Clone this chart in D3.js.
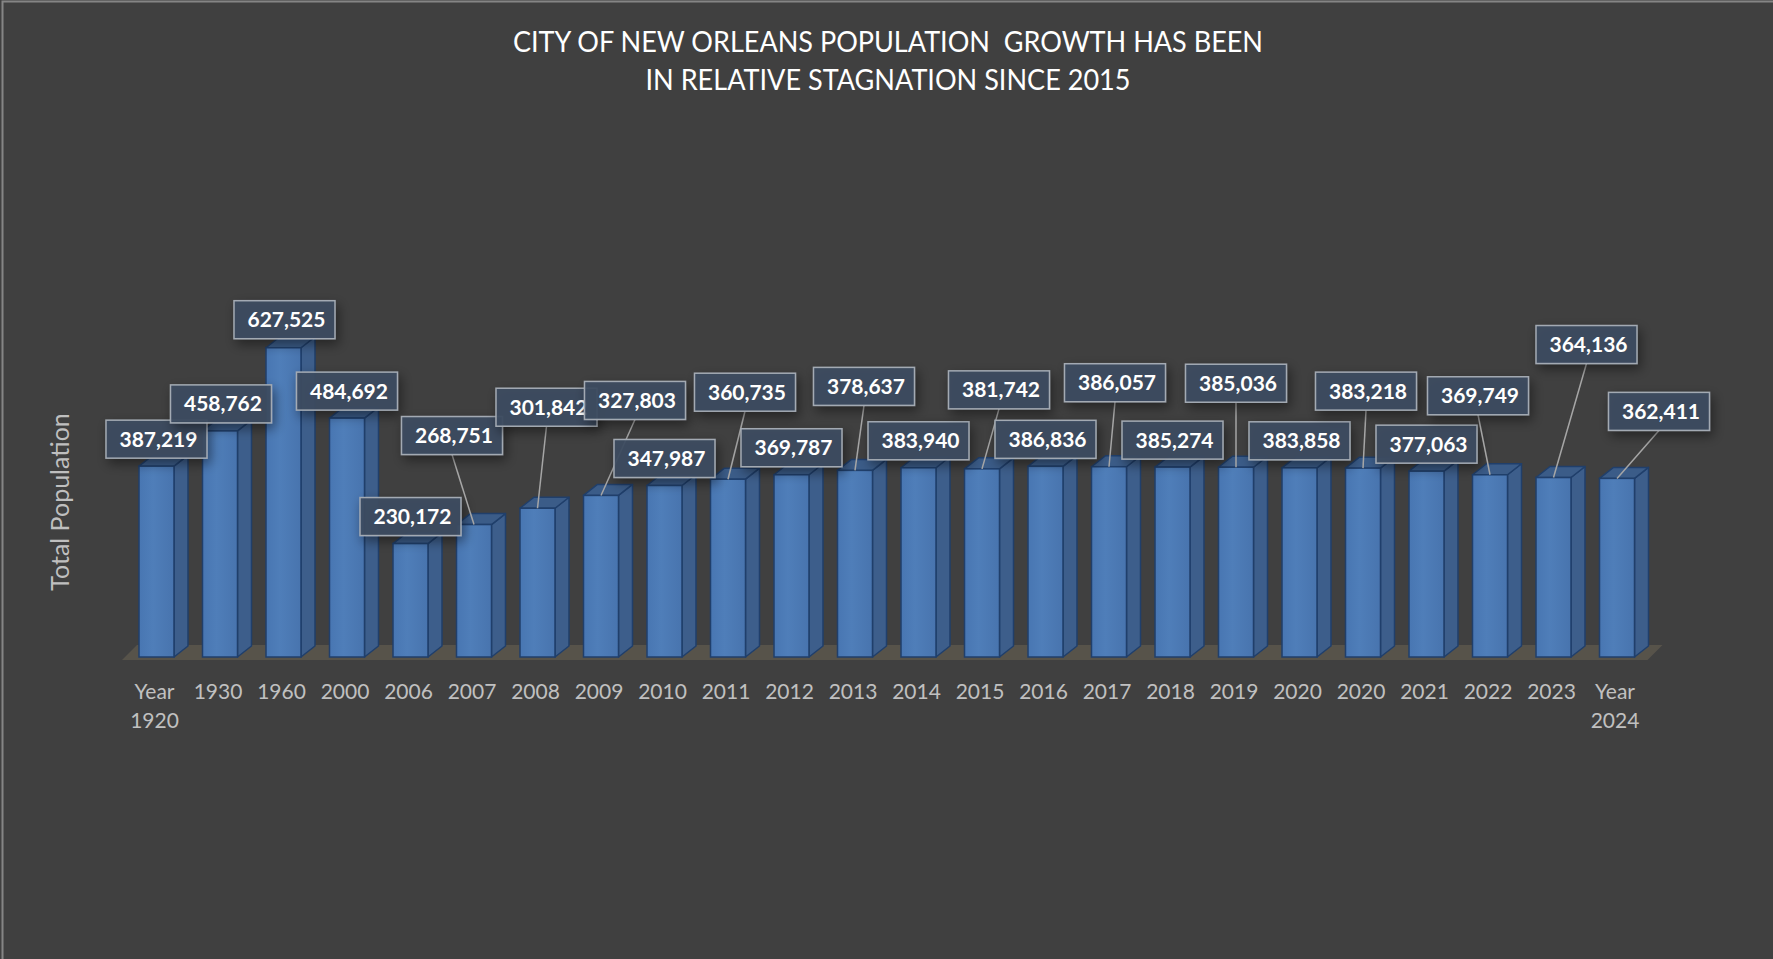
<!DOCTYPE html>
<meta charset="utf-8">
<style>
body { margin: 0; background: #404040; }
svg { display: block; font-family: Lato, "Open Sans", sans-serif; }
.tick text { fill: #c0c0c0; font-size: 21px; }
.val { fill: #fff; font-size: 21px; font-weight: bold; }
.title { white-space: pre; }
</style>
<svg width="1773" height="959"></svg>
<script src="https://d3js.org/d3.v7.min.js"></script>
<script>
// categories and values
var categories = ['Year 1920', '1930', '1960', '2000', '2006', '2007', '2008', '2009', '2010', '2011',
  '2012', '2013', '2014', '2015', '2016', '2017', '2018', '2019', '2020', '2020',
  '2021', '2022', '2023', 'Year 2024'];
var population = [387219, 458762, 627525, 484692, 230172, 268751, 301842, 327803, 347987, 360735,
  369787, 378637, 383940, 381742, 386836, 386057, 385274, 385036, 383858, 383218,
  377063, 369749, 364136, 362411];
var titleLines = ['CITY OF NEW ORLEANS POPULATION  GROWTH HAS BEEN', 'IN RELATIVE STAGNATION SINCE 2015'];
var yTitle = 'Total Population';

// where each data label box sits, relative to the top of its bar (layout only)
var labelShift = [[0, -27], [1, -27], [1, -28], [0, -27], [0, -27], [-22, -89], [9, -101], [34, -95],
  [0, -27], [17, -87], [0, -27], [9, -84], [0, -27], [17, -79], [0, -27], [6, -84], [0, -27],
  [0, -84], [0, -27], [3, -77], [0, -27], [-12, -79], [33, -133], [42, -67]];

var svg = d3.select('svg');
var W = +svg.attr('width'), H = +svg.attr('height');

var defs = svg.append('defs');
var grad = defs.append('linearGradient').attr('id', 'front');
grad.append('stop').attr('offset', '0%').attr('stop-color', '#4876b2');
grad.append('stop').attr('offset', '40%').attr('stop-color', '#4f7eb9');
grad.append('stop').attr('offset', '100%').attr('stop-color', '#4874ae');
var sh = defs.append('filter').attr('id', 'shadow').attr('x', '-30%').attr('y', '-50%')
  .attr('width', '160%').attr('height', '220%');
sh.append('feDropShadow').attr('dx', 3).attr('dy', 5).attr('stdDeviation', 6)
  .attr('flood-color', '#000').attr('flood-opacity', 0.45);

svg.append('rect').attr('width', W).attr('height', H).attr('fill', '#404040');
svg.append('path').attr('d', 'M2.5,' + H + 'V1.5H' + W)
  .attr('fill', 'none').attr('stroke', '#858585').attr('stroke-width', 2);

var x = d3.scaleBand()
  .domain(d3.range(categories.length))
  .range([139, 1634.5])
  .paddingInner(0.449)
  .paddingOuter(0);
var y = d3.scaleLinear().domain([0, 700000]).range([657, 312]);

var depthX = 14, depthY = -11;
var base = y(0);

var rows = population.map(function (v, i) {
  return { i: i, v: v, dx: labelShift[i][0], dy: labelShift[i][1] };
});
function cx(d) { return x(d.i) + x.bandwidth() / 2; }

// floor
var fx0 = x.range()[0] - 17, fx1 = x.range()[1] + 13;
svg.append('path')
  .attr('d', 'M' + fx0 + ',' + (base + 3) + 'L' + (fx0 + 15) + ',' + (base - 12) +
    'L' + (fx1 + 15) + ',' + (base - 12) + 'L' + fx1 + ',' + (base + 3) + 'Z')
  .attr('fill', '#57534a');

// x axis
var xAxis = svg.append('g')
  .attr('transform', 'translate(-2,' + base + ')')
  .call(d3.axisBottom(x).tickSize(0).tickFormat(function (i) { return categories[i]; }));
xAxis.select('.domain').remove();
xAxis.selectAll('.tick text')
  .attr('y', 42).attr('dy', null)
  .style('font-family', 'Lato, sans-serif')
  .each(function (i) {
    var words = categories[i].split(' ');
    if (words.length > 1) {
      var t = d3.select(this).text(words[0]);
      t.append('tspan').attr('x', 0).attr('dy', 29).text(words[1]);
    }
  });

// bars
var bars = svg.selectAll('.bar')
  .data(rows)
  .enter()
  .append('g')
  .attr('class', 'bar');

bars.append('path')
  .attr('d', function (d) {
    var r = x(d.i) + x.bandwidth(), t = y(d.v);
    return 'M' + r + ',' + t + 'L' + (r + depthX) + ',' + (t + depthY) +
      'L' + (r + depthX) + ',' + (base + depthY) + 'L' + r + ',' + base + 'Z';
  })
  .attr('fill', '#3d5e8b').attr('stroke', '#203f6b').attr('stroke-width', 1.5)
  .attr('stroke-linejoin', 'round');

bars.append('path')
  .attr('d', function (d) {
    var l = x(d.i), r = l + x.bandwidth(), t = y(d.v);
    return 'M' + l + ',' + t + 'L' + (l + depthX) + ',' + (t + depthY) +
      'L' + (r + depthX) + ',' + (t + depthY) + 'L' + r + ',' + t + 'Z';
  })
  .attr('fill', '#3b5c88').attr('stroke', '#203f6b').attr('stroke-width', 1.5)
  .attr('stroke-linejoin', 'round');

bars.append('rect')
  .attr('x', function (d) { return x(d.i); })
  .attr('y', function (d) { return y(d.v); })
  .attr('width', x.bandwidth())
  .attr('height', function (d) { return base - y(d.v); })
  .attr('fill', 'url(#front)').attr('stroke', '#203f6b').attr('stroke-width', 1.5);

// data labels
var bw = 101, bh = 38;
var fmt = d3.format(',');
var labels = svg.selectAll('.lab')
  .data(rows)
  .enter()
  .append('g')
  .attr('class', 'lab');

labels.filter(function (d) { return Math.abs(d.dx) > 2 || d.dy < -40; })
  .append('line')
  .attr('x1', function (d) { return cx(d) + d.dx; })
  .attr('y1', function (d) { return y(d.v) + d.dy + bh / 2; })
  .attr('x2', cx)
  .attr('y2', function (d) { return y(d.v); })
  .attr('stroke', '#a6a6a6').attr('stroke-width', 1.5);

labels.append('rect')
  .attr('x', function (d) { return cx(d) + d.dx - bw / 2; })
  .attr('y', function (d) { return y(d.v) + d.dy - bh / 2; })
  .attr('width', bw).attr('height', bh)
  .attr('fill', '#3c4b61').attr('fill-opacity', 0.93)
  .attr('stroke', '#a3aab3').attr('stroke-width', 1.5)
  .attr('filter', 'url(#shadow)');

labels.append('text')
  .attr('class', 'val')
  .attr('x', function (d) { return cx(d) + d.dx + 2; })
  .attr('y', function (d) { return y(d.v) + d.dy + 7.5; })
  .attr('text-anchor', 'middle')
  .text(function (d) { return fmt(d.v); });

// titles
svg.selectAll('.title')
  .data(titleLines)
  .enter()
  .append('text')
  .attr('class', 'title')
  .attr('x', 888)
  .attr('y', function (d, i) { return 52 + i * 38; })
  .attr('text-anchor', 'middle')
  .attr('fill', '#fff')
  .attr('font-size', 28)
  .attr('textLength', function (d, i) { return i === 0 ? 750 : 485; })
  .attr('lengthAdjust', 'spacingAndGlyphs')
  .text(function (d) { return d; });

svg.append('text')
  .attr('transform', 'translate(69,502) rotate(-90)')
  .attr('text-anchor', 'middle')
  .attr('fill', '#bfbfbf')
  .attr('font-size', 25)
  .text(yTitle);
</script>
